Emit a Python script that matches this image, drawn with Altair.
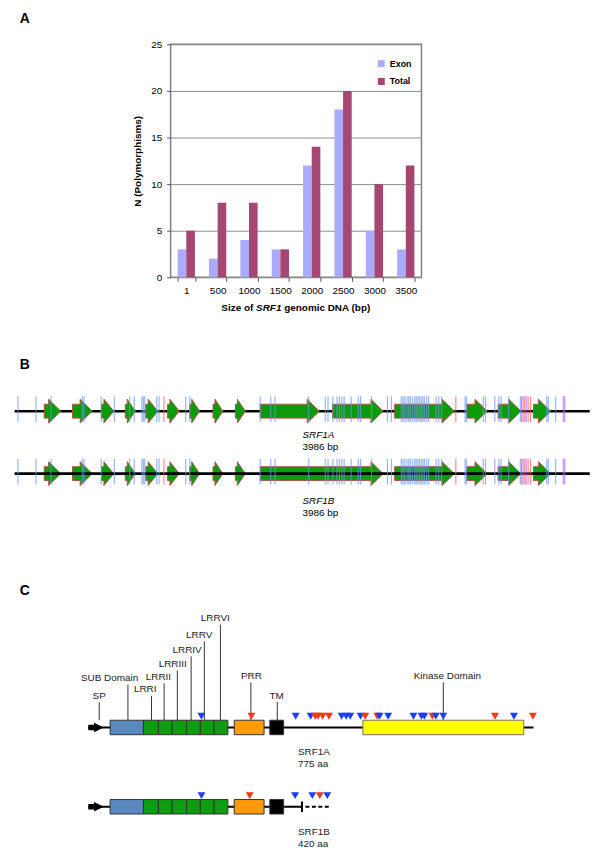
import altair as alt
import pandas as pd

FONT = "Liberation Sans"

panel_labels = ["A", "B", "C"]

# ---------------- Panel A: polymorphisms per 500 bp window ----------------
size_bins = ["1", "500", "1000", "1500", "2000", "2500", "3000", "3500"]
exon_counts = [3, 2, 4, 3, 12, 18, 5, 3]
total_counts = [5, 8, 8, 3, 14, 20, 10, 12]
series_names = ["Exon", "Total"]
series_colors = ["#aaaaff", "#a54673"]
y_ticks_a = [0, 5, 10, 15, 20, 25]
x_title_parts = ["Size of", "SRF1", "genomic DNA (bp)"]
x_title_styles = ["normal", "italic", "normal"]

# ---------------- Panel B: genomic structure (bp) ----------------
gene_names = ["SRF1A", "SRF1B"]
gene_sizes = ["3986 bp", "3986 bp"]
gene_len_bp = 3986
exon_start_1a = [205, 401, 602, 767, 909, 1060, 1214, 1375, 1530, 1702, 2203, 2634, 3134, 3351, 3596]
exon_end_1a = [320, 538, 687, 836, 992, 1141, 1282, 1443, 1599, 2112, 2554, 3047, 3275, 3509, 3715]
exon_start_1b = [205, 401, 602, 767, 909, 1060, 1214, 1375, 1530, 1702, 2634, 3134, 3351, 3596]
exon_end_1b = [320, 538, 687, 836, 992, 1141, 1282, 1443, 1599, 2554, 3047, 3275, 3509, 3715]
poly_kind1_bp = [23, 148, 252, 469, 481, 600, 691, 797, 829, 882, 892, 902, 985, 1001, 1186, 1214,
                 1702, 1775, 1805, 2038, 2153, 2172, 2206, 2234, 2251, 2268, 2284, 2332, 2382, 2398,
                 2474, 2584, 2611, 2680, 2691, 2703, 2719, 2732, 2742, 2756, 2772, 2783, 2794, 2806,
                 2818, 2829, 2840, 2856, 2870, 2921, 2939, 2959, 3122, 3131, 3248, 3264, 3328, 3356,
                 3372, 3424, 3505, 3688, 3699, 3750]
poly_kind2_bp = [1035, 3058, 3514, 3535, 3559, 3576]
poly_kind3_bp = [3524, 3546, 3803, 3813]
poly_kinds = ["kind1", "kind2", "kind3"]
poly_colors = ["#6b97e8", "#ff5a5a", "#b060e8"]

# ---------------- Panel C: protein domains (aa) ----------------
protein_names = ["SRF1A", "SRF1B"]
protein_sizes = ["775 aa", "420 aa"]
srf1a_len_aa = 775
srf1b_solid_end_aa = 372
srf1b_dash_start_aa = 378
srf1b_len_aa = 420
sp_arrow_aa = [0, 10, 27]          # shaft start, head start, tip
domain_names = ["SUB", "LRRI", "LRRII", "LRRIII", "LRRIV", "LRRV", "LRRVI", "PRR", "TM", "Kinase"]
domain_class = ["SUB", "LRR", "LRR", "LRR", "LRR", "LRR", "LRR", "PRR", "TM", "Kinase"]
domain_start_aa = [38, 96, 122, 146, 171, 195, 219, 254, 316, 478]
domain_end_aa = [96, 122, 146, 171, 195, 219, 243, 306, 340, 758]
domain_in_srf1b = [True, True, True, True, True, True, True, True, True, False]
box_classes = ["SUB", "LRR", "PRR", "TM", "Kinase"]
box_colors = ["#5b87bf", "#0c9e10", "#ff9a0a", "#000000", "#ffff00"]
callout_text = ["SP", "SUB Domain", "LRRI", "LRRII", "LRRIII", "LRRIV", "LRRV", "LRRVI",
                "PRR", "TM", "Kinase Domain"]
callout_anchor_aa = [19, 69, 110, 132, 155, 179, 202, 230, 283, 329, 618]
callout_text_aa = [19, 37, 99, 122, 147, 172, 193, 221, 284, 328, 625]
snp_aa_1a = [197, 284, 361, 387, 395, 400, 408, 419, 441, 449, 456, 474, 482, 503, 507, 522,
             566, 580, 585, 599, 605, 618, 708, 741, 774]
snp_kind_1a = ["k1", "k2", "k1", "k1", "k2", "k2", "k2", "k2", "k1", "k1", "k1", "k1", "k2", "k2",
               "k1", "k1", "k1", "k1", "k1", "k2", "k1", "k1", "k2", "k1", "k2"]
snp_aa_1b = [197, 281, 360, 390, 403, 416]
snp_kind_1b = ["k1", "k2", "k1", "k1", "k2", "k1"]
snp_kinds = ["k1", "k2"]
snp_colors = ["#1c3ff0", "#f23a18"]

# ---------------- layout (pixels) ----------------
PAGE_W = 584
TOP_H = 31
A_SPACER = 161
A_W, A_H = 253, 235
A_TITLE_X = [51.2, 86.2, 114.6]
A_TITLE_Y = 266
B_H, B_TRACK0, B_GAP = 266, 135, 63
C_H, C_TRACK0, C_GAP = 311, 188, 80
callout_text_dy = [-32, -49.7, -38.3, -51, -64, -78.3, -93.3, -110.3, -51.8, -32.2, -52]
gene_label_dy = [[24, 36.5], [28, 40]]
protein_label_dy = [[25, 37], [25, 38]]

# =============== Panel A ===============
dfA = pd.DataFrame({
    "bin": size_bins * 2,
    "series": [series_names[0]] * len(size_bins) + [series_names[1]] * len(size_bins),
    "n": exon_counts + total_counts,
})
barA = alt.Chart(dfA).mark_bar().encode(
    x=alt.X("bin:N", sort=size_bins,
            scale=alt.Scale(paddingInner=0.45, paddingOuter=0.225),
            axis=alt.Axis(title=None, labelAngle=0, tickBand="extent",
                          tickSize=4, tickColor="#555555", domain=False, grid=False,
                          labelFontSize=10, labelPadding=4, labelColor="black")),
    xOffset=alt.XOffset("series:N", sort=series_names),
    y=alt.Y("n:Q", scale=alt.Scale(domain=[0, 25], nice=False),
            axis=alt.Axis(values=y_ticks_a, title="N (Polymorphisms)", tickSize=4, tickColor="#555555",
                          domain=False, grid=True, gridColor="#8c8c8c", gridWidth=1,
                          labelFontSize=10, labelPadding=5, labelColor="black",
                          titleFontSize=10, titleFontWeight="bold", titlePadding=8, titleColor="black")),
    color=alt.Color("series:N", scale=alt.Scale(domain=series_names, range=series_colors),
                    legend=alt.Legend(title=None, orient="none", legendX=369, legendY=15,
                                      symbolType="square", symbolSize=49, symbolStrokeWidth=0,
                                      labelFontSize=9, labelFontWeight="bold", rowPadding=8,
                                      padding=0, labelOffset=4)),
)

title_layers = []
for part, style, px in zip(x_title_parts, x_title_styles, A_TITLE_X):
    title_layers.append(
        alt.Chart(pd.DataFrame({"t": [part]})).mark_text(
            fontSize=10, fontWeight="bold", fontStyle=style, align="left", baseline="middle", color="black"
        ).encode(text="t:N", x=alt.value(px), y=alt.value(A_TITLE_Y))
    )

chartA = alt.layer(barA, *title_layers).properties(
    width=A_W, height=A_H, view=alt.ViewBackground(stroke="#808080", strokeWidth=1.5))

spacer = alt.Chart(pd.DataFrame({"v": [0]})).mark_point(opacity=0).properties(width=A_SPACER, height=A_H)
rowA = alt.hconcat(spacer, chartA, spacing=0, bounds="flush")
# the nested row takes no height in a flush layout, so reserve its height explicitly
holdA = alt.Chart(pd.DataFrame({"v": [0]})).mark_point(opacity=0).properties(width=1, height=A_H)

top = alt.Chart(pd.DataFrame({"label": [panel_labels[0]]})).mark_text(
    fontSize=14, fontWeight="bold", align="center", baseline="middle", color="black"
).encode(text="label:N", x=alt.value(14), y=alt.value(6)).properties(width=PAGE_W, height=TOP_H)

# =============== Panel B ===============
b_x = alt.Scale(domain=[-25.4, 3988.0], nice=False, zero=False)
b_y = alt.Scale(domain=[-B_TRACK0 / B_GAP, (B_H - B_TRACK0) / B_GAP], reverse=True, nice=False, zero=False)


def by(px):
    return px / B_GAP


exon_rows = []
for t, (starts, ends) in enumerate([(exon_start_1a, exon_end_1a), (exon_start_1b, exon_end_1b)]):
    for i, (s, e) in enumerate(zip(starts, ends)):
        hs = e - min(84, 0.8 * (e - s))
        pid = f"{t}-{i}"
        exon_rows += [
            dict(id=pid, x=s, y=t - by(7), y2=t + by(7)),
            dict(id=pid, x=hs, y=t - by(7), y2=t + by(7)),
            dict(id=pid, x=hs, y=t - by(12), y2=t + by(12)),
            dict(id=pid, x=e, y=t, y2=t),
        ]
exonsB = alt.Chart(pd.DataFrame(exon_rows)).mark_area(
    orient="vertical", fill="#0b9b0b", stroke="#b0524a", strokeWidth=1
).encode(x=alt.X("x:Q", scale=b_x, axis=None), y=alt.Y("y:Q", scale=b_y, axis=None),
         y2="y2:Q", detail="id:N")


def backbone(track):
    df = pd.DataFrame({"track": [track], "start": [0], "end": [gene_len_bp]})
    return alt.Chart(df).mark_rule(color="black", strokeWidth=2.6).encode(
        x=alt.X("start:Q", scale=b_x, axis=None), x2="end:Q",
        y=alt.Y("track:Q", scale=b_y, axis=None))


snp_rows = []
for t in range(2):
    for kind, lst in zip(poly_kinds, [poly_kind1_bp, poly_kind2_bp, poly_kind3_bp]):
        for p in lst:
            snp_rows.append(dict(bp=p, kind=kind, y=t - by(15), y2=t + by(11)))
snpB = alt.Chart(pd.DataFrame(snp_rows)).mark_rule(strokeWidth=1.2, opacity=0.7).encode(
    x=alt.X("bp:Q", scale=b_x, axis=None), y=alt.Y("y:Q", scale=b_y, axis=None), y2="y2:Q",
    color=alt.Color("kind:N", scale=alt.Scale(domain=poly_kinds, range=poly_colors), legend=None))

name_rows, size_rows = [], []
for t in range(2):
    name_rows.append(dict(label=gene_names[t], x=1995, y=t + by(gene_label_dy[t][0])))
    size_rows.append(dict(label=gene_sizes[t], x=1995, y=t + by(gene_label_dy[t][1])))
namesB = alt.Chart(pd.DataFrame(name_rows)).mark_text(
    fontSize=10, fontStyle="italic", align="left", baseline="middle", color="black"
).encode(x=alt.X("x:Q", scale=b_x, axis=None), y=alt.Y("y:Q", scale=b_y, axis=None), text="label:N")
sizesB = alt.Chart(pd.DataFrame(size_rows)).mark_text(
    fontSize=10, align="left", baseline="middle", color="black"
).encode(x=alt.X("x:Q", scale=b_x, axis=None), y=alt.Y("y:Q", scale=b_y, axis=None), text="label:N")

letterB = alt.Chart(pd.DataFrame({"label": [panel_labels[1]]})).mark_text(
    fontSize=14, fontWeight="bold", align="center", baseline="middle", color="black"
).encode(text="label:N", x=alt.value(14), y=alt.value(88))

chartB = alt.layer(letterB, backbone(0), exonsB, backbone(1), snpB, namesB, sizesB).properties(
    width=PAGE_W, height=B_H)

# =============== Panel C ===============
c_x = alt.Scale(domain=[-134.6, 873.4], nice=False, zero=False)
c_y = alt.Scale(domain=[-C_TRACK0 / C_GAP, (C_H - C_TRACK0) / C_GAP], reverse=True, nice=False, zero=False)


def cy(px):
    return px / C_GAP


XC = lambda f: alt.X(f, scale=c_x, axis=None)
YC = lambda f: alt.Y(f, scale=c_y, axis=None)

lead_rows, ctext_rows = [], []
for i, txt in enumerate(callout_text):
    lead_rows.append(dict(aa=callout_anchor_aa[i], y=cy(callout_text_dy[i] + 6.5), y2=cy(-7.3)))
    ctext_rows.append(dict(label=txt, aa=callout_text_aa[i], y=cy(callout_text_dy[i])))
leadC = alt.Chart(pd.DataFrame(lead_rows)).mark_rule(color="#333333", strokeWidth=1).encode(
    x=XC("aa:Q"), y=YC("y:Q"), y2="y2:Q")
ctextC = alt.Chart(pd.DataFrame(ctext_rows)).mark_text(
    fontSize=10, align="center", baseline="middle", color="#222222"
).encode(x=XC("aa:Q"), y=YC("y:Q"), text="label:N")

backC = alt.Chart(pd.DataFrame({"track": [0, 1], "start": [0, 0],
                                "end": [srf1a_len_aa, srf1b_solid_end_aa]})).mark_rule(
    color="black", strokeWidth=2).encode(x=XC("start:Q"), x2="end:Q", y=YC("track:Q"))
dashC = alt.Chart(pd.DataFrame({"track": [1], "start": [srf1b_dash_start_aa],
                                "end": [srf1b_len_aa]})).mark_rule(
    color="black", strokeWidth=2, strokeDash=[4, 2.5]).encode(x=XC("start:Q"), x2="end:Q", y=YC("track:Q"))
tickC = alt.Chart(pd.DataFrame({"aa": [srf1b_solid_end_aa], "y": [1 - cy(5.3)], "y2": [1 + cy(5.3)]})).mark_rule(
    color="black", strokeWidth=2).encode(x=XC("aa:Q"), y=YC("y:Q"), y2="y2:Q")

arrow_rows = []
for t in range(2):
    s, h, e = sp_arrow_aa
    pid = f"sp{t}"
    arrow_rows += [
        dict(id=pid, x=s, y=t - cy(2.8), y2=t + cy(2.8)),
        dict(id=pid, x=h, y=t - cy(2.8), y2=t + cy(2.8)),
        dict(id=pid, x=h, y=t - cy(4.8), y2=t + cy(4.8)),
        dict(id=pid, x=e, y=t, y2=t),
    ]
arrowC = alt.Chart(pd.DataFrame(arrow_rows)).mark_area(orient="vertical", fill="black").encode(
    x=XC("x:Q"), y=YC("y:Q"), y2="y2:Q", detail="id:N")

box_rows = []
for t in range(2):
    for i, nm in enumerate(domain_names):
        if t == 1 and not domain_in_srf1b[i]:
            continue
        box_rows.append(dict(name=nm, cls=domain_class[i], start=domain_start_aa[i], end=domain_end_aa[i],
                             y=t - cy(7.3), y2=t + cy(7.3)))
boxC = alt.Chart(pd.DataFrame(box_rows)).mark_rect(strokeWidth=1).encode(
    x=XC("start:Q"), x2="end:Q", y=YC("y:Q"), y2="y2:Q",
    fill=alt.Fill("cls:N", scale=alt.Scale(domain=box_classes, range=box_colors), legend=None),
    stroke=alt.condition(alt.datum.cls == "Kinase", alt.value("#707070"), alt.value("#333333")))

tri_rows = []
for t, (aas, kinds) in enumerate([(snp_aa_1a, snp_kind_1a), (snp_aa_1b, snp_kind_1b)]):
    for a, k in zip(aas, kinds):
        tri_rows.append(dict(aa=a, kind=k, y=t - cy(11.3)))
triC = alt.Chart(pd.DataFrame(tri_rows)).mark_point(
    shape="triangle-down", filled=True, size=64, opacity=1, strokeWidth=0).encode(
    x=XC("aa:Q"), y=YC("y:Q"),
    color=alt.Color("kind:N", scale=alt.Scale(domain=snp_kinds, range=snp_colors), legend=None))

pname_rows = []
for t in range(2):
    pname_rows.append(dict(label=protein_names[t], aa=365, y=t + cy(protein_label_dy[t][0])))
    pname_rows.append(dict(label=protein_sizes[t], aa=365, y=t + cy(protein_label_dy[t][1])))
pnameC = alt.Chart(pd.DataFrame(pname_rows)).mark_text(
    fontSize=10, align="left", baseline="middle", color="#222222"
).encode(x=XC("aa:Q"), y=YC("y:Q"), text="label:N")

letterC = alt.Chart(pd.DataFrame({"label": [panel_labels[2]]})).mark_text(
    fontSize=14, fontWeight="bold", align="center", baseline="middle", color="black"
).encode(text="label:N", x=alt.value(14), y=alt.value(50))

chartC = alt.layer(letterC, leadC, backC, dashC, tickC, arrowC, boxC, triC, ctextC, pnameC).properties(
    width=PAGE_W, height=C_H).resolve_scale(color="independent", fill="independent")

chart = alt.vconcat(top, rowA, holdA, chartB, chartC, spacing=0, bounds="flush").resolve_scale(
    color="independent", x="independent", y="independent"
).properties(padding=0).configure(font=FONT).configure_view(stroke="transparent")

chart.save("out.html", embed_options={"renderer": "svg", "actions": False})
